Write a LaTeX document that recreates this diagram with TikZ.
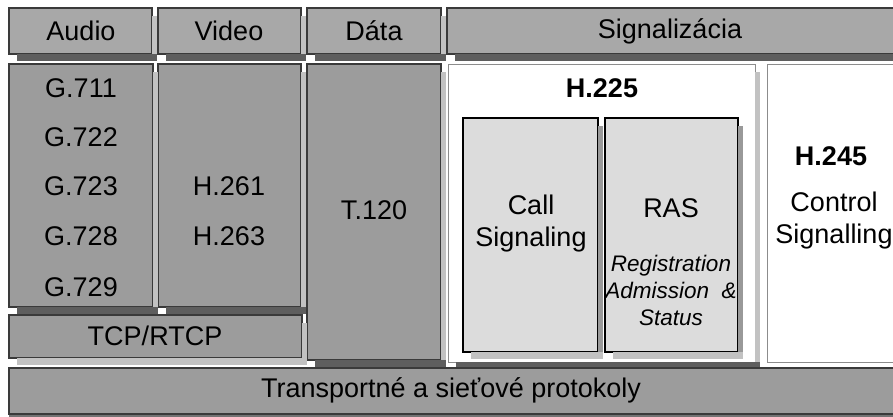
\documentclass[tikz,border=0pt]{standalone}
\usepackage{fontspec}
\setmainfont{Liberation Sans}
\definecolor{headgray}{HTML}{A8A8A8}
\definecolor{bodygray}{HTML}{9C9C9C}
\definecolor{panelgray}{HTML}{DCDCDC}
\definecolor{shadowdark}{HTML}{5E5E5E}
\definecolor{shadowlight}{HTML}{C2C2C2}
\definecolor{edgegray}{HTML}{3A3A3A}
\tikzset{
  boxbase/.style={anchor=north west, inner sep=0pt, outer sep=0pt, line width=1.2pt, draw=edgegray},
  headbox/.style={boxbase, fill=headgray},
  bodybox/.style={boxbase, fill=bodygray},
  panelbox/.style={boxbase, fill=panelgray, draw=black},
  whitebox/.style={boxbase, fill=white, draw=black!45, line width=0.8pt},
  lbl/.style={font=\fontsize{27}{32}\selectfont, inner sep=0pt, align=center},
  boldlbl/.style={lbl, font=\fontsize{27}{32}\selectfont\bfseries},
  smalllbl/.style={font=\fontsize{22.5}{27}\selectfont\itshape, inner sep=0pt, align=center},
}
% bottom and right drop strips beside a box
\newcommand\boxshadow[3]{%
  \fill[#2] ([xshift=8pt]#1.south west) rectangle ([xshift=5pt,yshift=-7pt]#1.south east);
  \fill[#3] ([yshift=-8pt]#1.north east) rectangle ([xshift=5pt]#1.south east);
}
\begin{document}
\begin{tikzpicture}[x=1pt,y=-1pt]
\clip (0,0) rectangle (893,417);
\fill[white] (0,0) rectangle (893,417);

% header row
\node[headbox, minimum width=143pt, minimum height=46pt] (audioH) at (9,8) {};
\node[headbox, minimum width=143pt, minimum height=46pt] (videoH) at (158,8) {};
\node[headbox, minimum width=134pt, minimum height=46pt] (dataH) at (307,8) {};
\node[headbox, minimum width=460pt, minimum height=46pt] (sigH) at (447,8) {};
\boxshadow{audioH}{shadowdark}{shadowlight}
\boxshadow{videoH}{shadowdark}{shadowlight}
\boxshadow{dataH}{shadowdark}{shadowlight}
\boxshadow{sigH}{shadowdark}{shadowlight}

% media columns
\node[bodybox, minimum width=144pt, minimum height=243pt] (audio) at (9,64) {};
\node[bodybox, minimum width=143pt, minimum height=243pt] (video) at (158,64) {};
\node[bodybox, minimum width=134pt, minimum height=296pt] (data) at (307,64) {};
\node[bodybox, minimum width=293pt, minimum height=43pt] (tcp) at (9,315) {};
\boxshadow{audio}{shadowdark}{shadowlight}
\boxshadow{video}{shadowdark}{shadowlight}
\boxshadow{data}{shadowdark}{shadowlight}
\boxshadow{tcp}{shadowlight}{shadowlight}

% signalling area
\node[whitebox, minimum width=307pt, minimum height=298pt] (h225) at (448,64) {};
\boxshadow{h225}{shadowdark}{shadowlight}
\node[whitebox, minimum width=140pt, minimum height=298pt] (h245) at (767,64) {};
\node[panelbox, minimum width=135pt, minimum height=234pt] (call) at (463,118) {};
\node[panelbox, minimum width=133pt, minimum height=234pt] (ras) at (605,118) {};
\boxshadow{call}{shadowlight}{black!40}
\boxshadow{ras}{shadowlight}{black!40}

% transport layer
\node[bodybox, minimum width=900pt, minimum height=46pt] (transport) at (9,368) {};
\fill[black!55] ([yshift=-1pt]transport.south west) rectangle ([yshift=-4pt]transport.south east);

% labels
\node[lbl] (tAudio) at (81,31) {Audio};
\node[lbl] (tVideo) at (229,31) {Video};
\node[lbl] (tData) at (374,31) {Dáta};
\node[lbl] (tSig) at (670,31) {Signalizácia};

\node[lbl] (g711) at (81,88) {G.711};
\node[lbl] (g722) at (81,137) {G.722};
\node[lbl] (g723) at (81,186) {G.723};
\node[lbl] (g728) at (81,236) {G.728};
\node[lbl] (g729) at (81,287) {G.729};

\node[lbl] (h261) at (229,186) {H.261};
\node[lbl] (h263) at (229,236) {H.263};
\node[lbl] (t120) at (374,210) {T.120};
\node[lbl] (tTcp) at (155,336) {TCP/RTCP};

\node[boldlbl] (tH225) at (602,88) {H.225};
\node[lbl] (tCall) at (531,224) {Call\\Signaling};
\node[lbl] (tRas) at (671,208) {RAS};
\node[smalllbl] (tRasSub) at (671,290) {Registration\\Admission~~\&\\Status};

\node[boldlbl] (tH245) at (831,156) {H.245};
\node[lbl] (tCtrl) at (834,221) {Control\\Signalling};

\node[lbl] (tTrans) at (451,390) {Transportné a sieťové protokoly};
\end{tikzpicture}
\end{document}
